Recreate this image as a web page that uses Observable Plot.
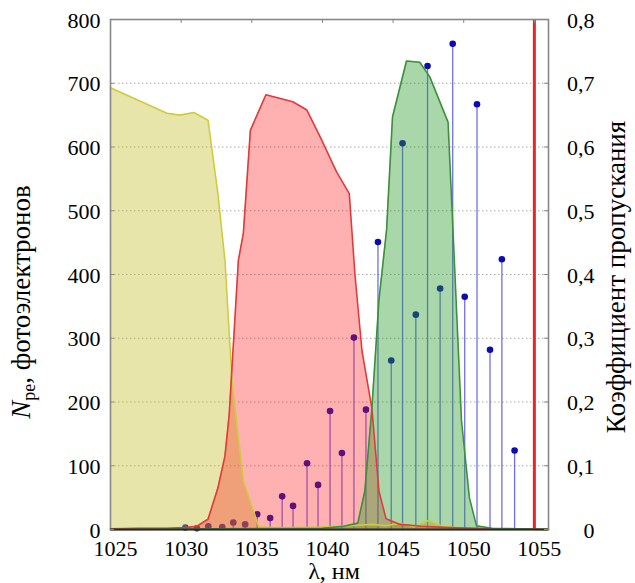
<!DOCTYPE html>
<html>
<head>
<meta charset="utf-8">
<script src="https://cdn.jsdelivr.net/npm/d3@7"></script>
<script src="https://cdn.jsdelivr.net/npm/@observablehq/plot@0.6"></script>
<style>
  html, body { margin: 0; padding: 0; background: #fff; }
  #chart { width: 635px; height: 583px; overflow: hidden; }
  #chart svg, #chart svg text {
    font-family: "Liberation Serif", "Tinos", "Times New Roman", "DejaVu Serif", "Noto Serif", serif !important;
  }
</style>
</head>
<body>
<div id="chart"></div>
<script>
// ---- tick values / labels ----
const xTicks = [1025, 1030, 1035, 1040, 1045, 1050, 1055];
const yTicks = [0, 100, 200, 300, 400, 500, 600, 700, 800];
const rightTickLabels = ["0", "0,1", "0,2", "0,3", "0,4", "0,5", "0,6", "0,7", "0,8"];

// ---- photoelectron counts (stems), wavelength in nm ----
const stemWl  = [1030.30, 1031.11, 1031.92, 1032.91, 1033.69, 1034.53, 1035.38, 1036.30, 1037.15, 1037.92,
                 1038.91, 1039.69, 1040.54, 1041.38, 1042.23, 1043.08, 1043.93, 1044.87, 1045.67, 1046.61,
                 1047.44, 1048.33, 1049.22, 1050.07, 1050.94, 1051.86, 1052.70, 1053.60];
const stemNpe = [3, 2, 5, 4, 11, 8, 24, 18, 52, 37,
                 104, 70, 186, 120, 301, 188, 451, 265, 606, 337,
                 727, 378, 762, 365, 667, 282, 424, 124];

// ---- filter transmission curves (coefficient 0..1) ----
const yellowWl = [1025, 1027, 1029.0, 1029.9, 1030.9, 1031.9, 1032.6, 1033.1, 1033.6, 1034.4, 1035.5,
                  1036.5, 1038, 1040, 1042, 1043.5, 1044.5, 1045.5, 1046.5, 1047.5, 1048.5, 1050, 1052, 1056];
const yellowT  = [0.693, 0.673, 0.653, 0.650, 0.654, 0.642, 0.527, 0.422, 0.234, 0.077, 0.004,
                  0.003, 0.003, 0.004, 0.006, 0.008, 0.006, 0.010, 0.004, 0.014, 0.005, 0.002, 0.001, 0];

const redWl = [1025, 1027, 1029, 1030.3, 1031.1, 1031.9, 1032.6, 1033.1, 1033.4, 1034.05, 1034.4, 1034.9,
               1036.0, 1037.9, 1038.9, 1039.9, 1041.0, 1041.9, 1042.3, 1042.8, 1043.5, 1044.0, 1044.5,
               1045.5, 1047, 1049, 1052, 1056];
const redT  = [0.001, 0.002, 0.002, 0.003, 0.005, 0.016, 0.065, 0.115, 0.18, 0.422, 0.464, 0.626,
               0.682, 0.671, 0.658, 0.613, 0.561, 0.527, 0.40, 0.28, 0.19, 0.06, 0.017,
               0.008, 0.005, 0.003, 0.001, 0];

const greenWl = [1025, 1040, 1041.5, 1042.5, 1043.0, 1043.5, 1044.0, 1044.54, 1044.96, 1045.95, 1046.89,
                 1047.6, 1048.89, 1049.24, 1049.84, 1050.4, 1050.9, 1052, 1056];
const greenT  = [0, 0.002, 0.005, 0.01, 0.06, 0.19, 0.36, 0.47, 0.647, 0.735, 0.733,
                 0.71, 0.639, 0.469, 0.171, 0.05, 0.006, 0.002, 0];

const laserWl = [1055];

// ---- build tables ----
const stems  = stemWl.map((w, i) => ({wl: w, npe: stemNpe[i]}));
const toRows = (wl, t) => wl.map((w, i) => ({wl: w, t: t[i]}));
const yellow = toRows(yellowWl, yellowT);
const red    = toRows(redWl, redT);
const green  = toRows(greenWl, greenT);
const tScale = d => d.t * 1000; // right axis 0..0.8 maps onto left axis 0..800

const W = 635, H = 583, mL = 110, mR = 87, mT = 19, mB = 54;
const innerW = W - mL - mR, innerH = H - mT - mB;
const font = '"Liberation Serif", "Tinos", "Times New Roman", "DejaVu Serif", serif';

const svg = Plot.plot({
  width: W, height: H,
  marginLeft: mL, marginRight: mR, marginTop: mT, marginBottom: mB,
  style: {fontFamily: font, fontSize: "22px", color: "#000", background: "#fff", overflow: "visible"},
  x: {domain: [1025, 1056]},
  y: {domain: [0, 800]},
  marks: [
    Plot.ruleY(yTicks.slice(1, -1), {stroke: "#aaa", strokeWidth: 1, strokeDasharray: "1.5,2.5"}),
    // stems beneath the translucent filter fills
    Plot.ruleX(stems, {x: "wl", y1: 0, y2: "npe", stroke: "#3838e0", strokeOpacity: 0.72, strokeWidth: 1.3}),
    Plot.dot(stems, {x: "wl", y: "npe", r: 3.3, fill: "#0b0bb0", stroke: "none"}),
    // filters
    Plot.areaY(yellow, {x: "wl", y: tScale, fill: "#c2bd2a", fillOpacity: 0.4}),
    Plot.areaY(red, {x: "wl", y: tScale, fill: "#ff1a1a", fillOpacity: 0.34}),
    Plot.areaY(green, {x: "wl", y: tScale, fill: "#2a9a2a", fillOpacity: 0.4}),
    Plot.lineY(yellow, {x: "wl", y: tScale, stroke: "#cfcc3c", strokeWidth: 1.6}),
    Plot.lineY(red, {x: "wl", y: tScale, stroke: "#e23a3a", strokeWidth: 1.6}),
    Plot.lineY(green, {x: "wl", y: tScale, stroke: "#3a913a", strokeWidth: 1.6}),
    // laser line
    Plot.ruleX(laserWl, {stroke: "#e8262a", strokeWidth: 3}),
    // frame and inward ticks
    Plot.frame({stroke: "#888", strokeWidth: 1.6}),
    Plot.ruleY([0], {stroke: "#2a2a20", strokeWidth: 2}),
    Plot.tickX(xTicks, {stroke: "#888", insetBottom: innerH - 4}),
    Plot.tickY(yTicks, {stroke: "#888", insetRight: innerW - 4}),
    Plot.tickY(yTicks, {stroke: "#888", insetLeft: innerW - 4}),
    // axes
    Plot.axisX(xTicks, {anchor: "bottom", tickSize: 0, tickPadding: 11, dx: 5, fontSize: 22, label: null,
                        tickFormat: d => String(d)}),
    Plot.axisY(yTicks, {anchor: "left", tickSize: 0, tickPadding: 10, dy: 1, fontSize: 22, label: null,
                        tickFormat: d => String(d)}),
    Plot.axisY(yTicks, {anchor: "right", tickSize: 0, tickPadding: 46, textAnchor: "end", dy: 1, fontSize: 22,
                        label: null, tickFormat: d => rightTickLabels[yTicks.indexOf(d)]})
  ]
});

// axis titles (real text; left one needs an italic N with a subscript)
const s = d3.select(svg);
const lt = s.append("text")
  .attr("transform", `translate(30, 302) rotate(-90)`)
  .attr("text-anchor", "middle")
  .style("font-family", font).attr("font-size", 27).attr("fill", "#000");
lt.append("tspan").attr("font-style", "italic").text("N");
lt.append("tspan").attr("font-size", 18).attr("dy", 5).text("pe");
lt.append("tspan").attr("dy", -5).text(", фотоэлектронов");

s.append("text")
  .attr("transform", `translate(625, 277) rotate(-90)`)
  .attr("text-anchor", "middle")
  .style("font-family", font).attr("font-size", 27).attr("fill", "#000")
  .text("Коэффициент пропускания");

s.append("text")
  .attr("x", mL + innerW / 2 + 5).attr("y", 579)
  .attr("text-anchor", "middle")
  .style("font-family", font).attr("font-size", 24).attr("fill", "#000")
  .text("λ, нм");

document.getElementById("chart").appendChild(svg);
</script>
</body>
</html>
